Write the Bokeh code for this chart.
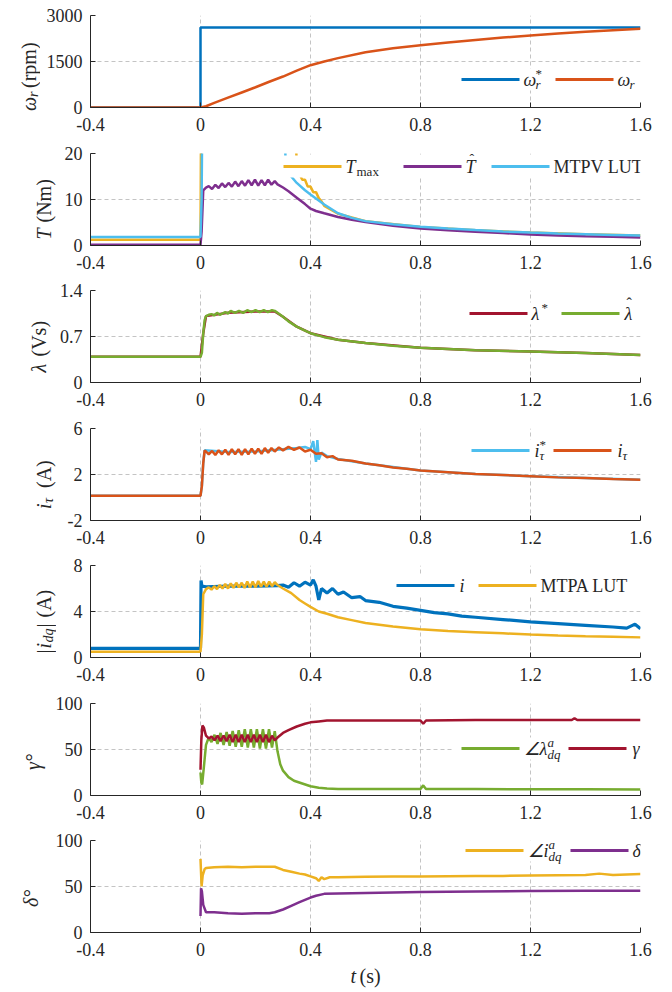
from math import pi
from bokeh.plotting import figure
from bokeh.layouts import column, row
from bokeh.models import Range1d, FixedTicker, Label, BoxAnnotation
from bokeh.embed import file_html
from bokeh.resources import INLINE

# ---------------- data ----------------
X_TICKS = [-0.4, 0, 0.4, 0.8, 1.2, 1.6]
X_TICK_LABELS = ["-0.4", "0", "0.4", "0.8", "1.2", "1.6"]

# panel 1 : speed
w_ref_t = [-0.4, 0.0, 0.0, 1.6]
w_ref = [0, 0, 2610, 2610]
w_t = [-0.4, 0.0, 0.02, 0.05, 0.1, 0.15, 0.2, 0.25, 0.3, 0.35, 0.4, 0.45, 0.5, 0.6, 0.7,
       0.8, 0.9, 1.0, 1.1, 1.2, 1.3, 1.4, 1.5, 1.6]
w_act = [0, 0, 40, 150, 320, 490, 660, 840, 1010, 1200, 1380, 1500, 1610, 1800, 1930,
         2030, 2120, 2200, 2280, 2350, 2410, 2470, 2520, 2565]
W_TICKS = [0, 1500, 3000]
W_TICK_LABELS = ["0", "1500", "3000"]

# panel 2 : torque
tmax_t = [-0.4, 0.0, 0.003, 0.34, 0.35, 0.36, 0.37, 0.38, 0.39, 0.40, 0.41, 0.42, 0.43,
          0.44, 0.45, 0.5, 0.6, 0.8, 1.0, 1.2, 1.4, 1.6]
tmax = [1.25, 1.25, 40, 40, 16.8, 15.5, 14.3, 14.3, 12.8, 12.8, 11.6, 11.6, 10.3,
        9.6, 8.6, 6.9, 5.3, 4.0, 3.3, 2.8, 2.45, 2.15]
that_t = [-0.4, 0.0, 0.004, 0.01, 0.02, 0.030, 0.042, 0.054, 0.066, 0.078, 0.090, 0.102,
          0.114, 0.126, 0.138, 0.150, 0.162, 0.174, 0.186, 0.198, 0.210, 0.222, 0.234,
          0.246, 0.258, 0.270, 0.280, 0.30, 0.32, 0.35, 0.38, 0.40, 0.42, 0.45, 0.5,
          0.55, 0.6, 0.7, 0.8, 0.9, 1.0, 1.1, 1.2, 1.3, 1.4, 1.5, 1.6]
that = [0.15, 0.15, 3.0, 12.0, 12.6, 12.9, 12.3, 13.2, 12.5, 13.5, 12.7, 13.6,
        12.8, 13.9, 12.9, 14.0, 13.0, 14.2, 13.1, 14.3, 13.0, 14.2, 13.1,
        14.3, 13.2, 14.0, 13.3, 12.6, 11.8, 10.4, 9.0, 8.0, 7.5, 7.0, 6.2,
        5.6, 5.1, 4.3, 3.7, 3.3, 3.0, 2.7, 2.4, 2.2, 2.0, 1.9, 1.75]
mtpv_t = [-0.4, 0.0, 0.004, 0.008, 0.30, 0.31, 0.33, 0.35, 0.38, 0.40, 0.43, 0.45, 0.5,
          0.55, 0.6, 0.7, 0.8, 0.9, 1.0, 1.1, 1.2, 1.3, 1.4, 1.5, 1.6]
mtpv = [1.85, 1.85, 10, 40, 40, 16.7, 15.0, 13.6, 12.0, 11.1, 9.8, 8.9, 7.0,
        6.0, 5.3, 4.6, 4.1, 3.7, 3.35, 3.05, 2.8, 2.6, 2.45, 2.3, 2.15]
T_TICKS = [0, 10, 20]
T_TICK_LABELS = ["0", "10", "20"]

# panel 3 : flux
lam_t = [-0.4, 0.0, 0.005, 0.01, 0.015, 0.02, 0.03, 0.04, 0.05, 0.06, 0.07, 0.09, 0.10,
         0.11, 0.125, 0.14, 0.155, 0.17, 0.185, 0.20, 0.215, 0.23, 0.245, 0.26, 0.27,
         0.28, 0.30, 0.32, 0.35, 0.38, 0.40, 0.45, 0.5, 0.6, 0.7, 0.8, 0.9, 1.0, 1.2,
         1.4, 1.6]
lam_hat = [0.39, 0.39, 0.45, 0.75, 0.95, 1.01, 1.03, 1.04, 1.02, 1.06, 1.03, 1.07, 1.05,
           1.09, 1.06, 1.09, 1.06, 1.10, 1.07, 1.10, 1.07, 1.10, 1.07, 1.10, 1.09,
           1.06, 1.00, 0.93, 0.85, 0.79, 0.75, 0.69, 0.65, 0.60, 0.56, 0.53, 0.51, 0.49,
           0.47, 0.45, 0.42]
lamref_t = [-0.4, 0.0, 0.01, 0.02, 0.1, 0.2, 0.27, 0.30, 0.35, 0.40, 0.5, 0.6, 0.8, 1.0,
            1.2, 1.4, 1.6]
lam_ref = [0.39, 0.39, 0.75, 1.01, 1.06, 1.08, 1.08, 1.00, 0.85, 0.75, 0.65, 0.60, 0.53,
           0.49, 0.47, 0.45, 0.42]
L_TICKS = [0, 0.7, 1.4]
L_TICK_LABELS = ["0", "0.7", "1.4"]

# panel 4 : torque current
it_t = [-0.4, 0.0, 0.005, 0.01, 0.015, 0.020, 0.030, 0.042, 0.054, 0.066, 0.078, 0.090,
        0.102, 0.114, 0.126, 0.138, 0.150, 0.162, 0.174, 0.186, 0.198, 0.210, 0.222,
        0.234, 0.246, 0.258, 0.270, 0.285, 0.30, 0.32, 0.34, 0.36, 0.38, 0.40, 0.42,
        0.44, 0.46, 0.48, 0.50, 0.55, 0.6, 0.65, 0.7, 0.75, 0.8, 0.9, 1.0, 1.1, 1.2,
        1.3, 1.4, 1.5, 1.6]
i_tau = [0.15, 0.15, 1.0, 3.0, 4.1, 4.0, 3.75, 4.05, 3.7, 4.1, 3.75, 4.15,
         3.7, 4.2, 3.75, 4.2, 3.7, 4.2, 3.75, 4.25, 3.8, 4.25, 3.8,
         4.3, 3.9, 4.3, 4.0, 4.35, 4.1, 4.4, 4.15, 4.35, 4.0, 4.15, 3.8,
         3.85, 3.5, 3.6, 3.3, 3.2, 2.95, 2.8, 2.6, 2.5, 2.35, 2.2, 2.05, 1.95, 1.85,
         1.75, 1.7, 1.6, 1.55]
itref_t = [-0.4, 0.0, 0.005, 0.01, 0.015, 0.1, 0.2, 0.3, 0.35, 0.38, 0.40, 0.41, 0.42,
           0.425, 0.43, 0.44, 0.46, 0.5, 0.6, 0.8, 1.0, 1.2, 1.4, 1.6]
i_tau_ref = [0.15, 0.15, 1.0, 3.0, 4.1, 3.95, 4.0, 4.2, 4.3, 4.4, 4.2, 4.9, 3.1,
             5.0, 3.3, 3.9, 3.6, 3.35, 2.95, 2.35, 2.05, 1.85, 1.7, 1.55]
I_TICKS = [-2, 2, 6]
I_TICK_LABELS = ["-2", "2", "6"]

# panel 5 : current magnitude
imag_t = [-0.4, 0.0, 0.002, 0.005, 0.02, 0.1, 0.2, 0.28, 0.30, 0.32, 0.34, 0.36, 0.38,
          0.40, 0.41, 0.42, 0.43, 0.44, 0.46, 0.48, 0.50, 0.52, 0.55, 0.58, 0.6, 0.65,
          0.7, 0.75, 0.8, 0.85, 0.9, 0.95, 1.0, 1.1, 1.2, 1.3, 1.4, 1.5, 1.55, 1.58, 1.6]
i_mag = [0.8, 0.8, 6.7, 6.2, 6.15, 6.2, 6.2, 6.25, 6.3, 6.1, 6.5, 6.2, 6.55,
         6.3, 6.75, 6.2, 5.0, 6.0, 5.6, 6.0, 5.5, 5.7, 5.2, 5.3, 4.95, 4.8,
         4.45, 4.3, 4.1, 3.9, 3.8, 3.6, 3.5, 3.3, 3.1, 2.95, 2.8, 2.65, 2.55, 2.9, 2.5]
mtpa_t = [-0.4, 0.0, 0.005, 0.01, 0.02, 0.03, 0.04, 0.05, 0.06, 0.07, 0.08, 0.09, 0.10,
          0.11, 0.12, 0.13, 0.14, 0.15, 0.16, 0.17, 0.18, 0.19, 0.20, 0.21, 0.22, 0.23,
          0.24, 0.25, 0.26, 0.27, 0.28, 0.30, 0.33, 0.36, 0.38, 0.40, 0.43, 0.46, 0.5,
          0.55, 0.6, 0.65, 0.7, 0.8, 0.9, 1.0, 1.1, 1.2, 1.3, 1.4, 1.5, 1.6]
mtpa = [0.5, 0.5, 2.0, 5.5, 5.95, 6.1, 5.9, 6.2, 5.95, 6.3, 6.0, 6.4, 6.0,
        6.45, 6.05, 6.5, 6.1, 6.5, 6.05, 6.6, 6.1, 6.6, 6.1, 6.65, 6.15, 6.6,
        6.15, 6.6, 6.2, 6.55, 6.3, 6.0, 5.6, 5.0, 4.7, 4.4, 4.0, 3.8, 3.5,
        3.25, 3.0, 2.85, 2.7, 2.45, 2.3, 2.2, 2.1, 2.0, 1.92, 1.85, 1.8, 1.75]
M_TICKS = [0, 4, 8]
M_TICK_LABELS = ["0", "4", "8"]

# panel 6 : gamma
osc_t = [0.04, 0.051, 0.062, 0.073, 0.084, 0.095, 0.106, 0.117, 0.128, 0.139, 0.15,
         0.161, 0.172, 0.183, 0.194, 0.205, 0.216, 0.227, 0.238, 0.249, 0.26, 0.27]
angl_t = [0.0, 0.003, 0.006, 0.012, 0.02, 0.03] + osc_t + [0.28, 0.29, 0.30, 0.32, 0.34,
          0.37, 0.40, 0.43, 0.46, 0.5, 0.6, 0.8, 0.81, 0.82, 1.0, 1.2, 1.4, 1.6]
ang_lam = [25, 14, 12, 30, 55, 63, 58, 66, 56, 68, 55, 69, 54, 70, 53, 71, 53,
           72, 52, 72, 52, 72, 51, 72, 51, 72, 52, 70, 48, 34, 27, 20, 16,
           13, 10, 8.5, 7.5, 7.2, 7.0, 7.2, 11, 7.0, 7.0, 6.8, 6.8, 6.5]
gam_t = [0.0, 0.003, 0.007, 0.012, 0.02, 0.03] + osc_t + [0.28, 0.30, 0.32, 0.35, 0.38,
         0.40, 0.43, 0.46, 0.5, 0.8, 0.81, 0.82, 1.0, 1.2, 1.35, 1.36, 1.37, 1.6]
gamma = [28, 60, 76, 74, 65, 62, 64, 60, 65, 59, 65, 59, 66, 58, 66, 58, 66,
         58, 66, 58, 66, 58, 66, 58, 66, 58, 65, 60, 63, 68, 71, 75, 78,
         79.5, 80.5, 81.5, 81.5, 81.5, 78, 81.5, 82, 82, 82, 84, 82, 82]
A_TICKS = [0, 50, 100]
A_TICK_LABELS = ["0", "50", "100"]

# panel 7 : delta
angi_t = [0.0, 0.002, 0.004, 0.008, 0.015, 0.02, 0.05, 0.1, 0.15, 0.2, 0.27, 0.3, 0.33,
          0.36, 0.38, 0.40, 0.42, 0.43, 0.44, 0.45, 0.47, 0.5, 0.6, 0.7, 0.8, 1.0, 1.1,
          1.2, 1.4, 1.45, 1.5, 1.6]
ang_i = [80, 65, 50, 62, 69, 70, 71, 71.5, 71, 71.5, 71.5, 68, 66,
         64, 63, 61, 59, 56, 60, 58, 60, 60, 60.5, 61, 61, 61.5, 61.5,
         62, 62.5, 64, 62.5, 63.5]
del_t = [0.0, 0.002, 0.005, 0.01, 0.02, 0.05, 0.1, 0.15, 0.2, 0.25, 0.27, 0.3, 0.33,
         0.36, 0.38, 0.40, 0.42, 0.45, 0.5, 0.6, 0.8, 1.0, 1.2, 1.4, 1.6]
delta = [18, 48, 45, 30, 22, 22, 21, 20.5, 21, 21, 22, 25, 29,
         33, 35.5, 38, 40, 42, 42.5, 43, 44, 44.5, 45, 45.5, 45.5]

# ---------------- style / layout ----------------
FONT = "Liberation Serif"
INK = "#262626"
BLUE, ORANGE, YELLOW = "#0072BD", "#D95319", "#EDB120"
PURPLE, GREEN, LBLUE, RED = "#7E2F8E", "#77AC30", "#4DBEEE", "#A2142F"

FRAME_L = 90          # page x of the plot frames' left edge
FRAME_W = 550
FRAME_H = 92
RIGHT_B = 24
ROW_TOPS = [0, 143, 280, 418, 555, 693, 830, 964]   # last = end of last row
FRAME_TOPS = [15, 153, 290, 428, 565, 703, 840]
LAB_W = [40, 56, 54, 56, 56, 50, 50]                  # width of y-label strip
XLAB_H = 26


class Ctx:
    def __init__(self, p, left, bottom):
        self.p, self.left, self.bottom = p, left, bottom


def label(c, px, py, text, size=18, italic=False, angle=0.0):
    c.p.add_layout(Label(x=px - c.left, y=c.bottom - py, x_units="screen",
                         y_units="screen", text=text, text_font=FONT,
                         text_font_size=f"{size}px",
                         text_font_style="italic" if italic else "normal",
                         text_color=INK, text_align="left", text_baseline="middle",
                         angle=angle))


def rich_h(c, x, y, segs):
    # segs: (text, size, italic, shift down, advance)
    for text, size, it, sh, adv in segs:
        label(c, x, y + sh, text, size, it)
        x += adv


def rich_v(c, cx, cy, segs):
    total = sum(s[4] for s in segs)
    y = cy + total / 2
    for text, size, it, sh, adv in segs:
        label(c, cx + sh, y, text, size, it, angle=pi / 2)
        y -= adv


def box(c, x0, x1, y0, y1, color):
    c.p.add_layout(BoxAnnotation(left=x0 - c.left, right=x1 - c.left,
                                 bottom=c.bottom - y1, top=c.bottom - y0,
                                 left_units="screen", right_units="screen",
                                 top_units="screen", bottom_units="screen",
                                 fill_color=color, fill_alpha=1.0, line_color=None,
                                 line_alpha=0.0))


def legend(c, y, bg, items):
    box(c, bg[0], bg[1], max(y - 11, c.bottom - FRAME_H), y + 11, "white")
    for color, x0, x1, tx, segs in items:
        box(c, x0, x1, y - 1.5, y + 1.5, color)
        rich_h(c, tx, y, segs)


def blank_fig(w, h):
    f = figure(frame_width=w, frame_height=h, x_range=Range1d(0, 1), y_range=Range1d(0, 1),
               output_backend="svg", toolbar_location=None,
               x_axis_location=None, y_axis_location=None,
               min_border=0, min_border_left=0, min_border_right=0,
               min_border_top=0, min_border_bottom=0)
    f.grid.visible = False
    f.outline_line_color = None
    f.background_fill_color = "white"
    f.border_fill_color = "white"
    return f


def make_panel(i, yr, yticks, ylabels):
    rt, re_ = ROW_TOPS[i], ROW_TOPS[i + 1]
    ft = FRAME_TOPS[i]
    lw = LAB_W[i]
    p = figure(frame_width=FRAME_W, frame_height=FRAME_H,
               x_range=Range1d(-0.4, 1.6), y_range=Range1d(*yr),
               output_backend="svg", toolbar_location=None,
               min_border_left=FRAME_L - lw, min_border_right=RIGHT_B,
               min_border_top=ft - rt, min_border_bottom=re_ - (ft + FRAME_H))
    p.outline_line_color = None
    p.background_fill_color = "white"
    p.border_fill_color = "white"
    p.xaxis.ticker = FixedTicker(ticks=X_TICKS)
    p.xaxis.major_label_overrides = dict(zip(X_TICKS, X_TICK_LABELS))
    p.yaxis.ticker = FixedTicker(ticks=yticks)
    p.yaxis.major_label_overrides = dict(zip(yticks, ylabels))
    for ax in (p.xaxis[0], p.yaxis[0]):
        ax.axis_line_color = INK
        ax.axis_line_width = 1
        ax.major_tick_in = 5
        ax.major_tick_out = 0
        ax.major_tick_line_color = INK
        ax.minor_tick_line_color = None
        ax.major_label_text_font = FONT
        ax.major_label_text_font_size = "18px"
        ax.major_label_text_color = INK
    p.xaxis.major_label_standoff = 10
    p.yaxis.major_label_standoff = 8
    p.grid.grid_line_color = "#c4c4c4"
    p.grid.grid_line_dash = "4 3"
    p.grid.grid_line_width = 1
    lab = blank_fig(lw, re_ - rt)
    main = Ctx(p, FRAME_L, ft + FRAME_H)
    side = Ctx(lab, 0, re_)
    return p, main, side, ft + FRAME_H / 2, row(lab, p, spacing=0)


LW = 2.5
rows = []

# 1 speed
p, c, s, mid, r = make_panel(0, (0, 3000), W_TICKS, W_TICK_LABELS)
p.line(w_ref_t, w_ref, color=BLUE, line_width=LW)
p.line(w_t, w_act, color=ORANGE, line_width=LW)
legend(c, 79, (452, 646), [
    (BLUE, 461, 519, 523, [("ω", 18, True, 0, 12), ("*", 13, False, -6, 0), ("r", 13, True, 5, 6)]),
    (ORANGE, 555, 613, 617, [("ω", 18, True, 0, 12), ("r", 13, True, 5, 6)]),
])
rich_v(s, 28, mid, [("ω", 20, True, 0, 14), ("r", 14, True, 5, 9), ("(rpm)", 20, False, 0, 46)])
rows.append(r)

# 2 torque
p, c, s, mid, r = make_panel(1, (0, 20), T_TICKS, T_TICK_LABELS)
p.line(tmax_t, tmax, color=YELLOW, line_width=LW)
p.line(that_t, that, color=PURPLE, line_width=LW)
p.line(mtpv_t, mtpv, color=LBLUE, line_width=LW)
legend(c, 166, (276, 640), [
    (YELLOW, 283, 341, 345, [("T", 18, True, 0, 11), ("max", 13, False, 5, 20)]),
    (PURPLE, 403, 461, 465, [("T", 18, True, 0, 4), ("ˆ", 14, False, -7, 9)]),
    (LBLUE, 491, 549, 553, [("MTPV LUT", 18, False, 0, 90)]),
])
rich_v(s, 43, mid, [("T", 20, True, 0, 17), ("(Nm)", 20, False, 0, 43)])
rows.append(r)

# 3 flux
p, c, s, mid, r = make_panel(2, (0, 1.4), L_TICKS, L_TICK_LABELS)
p.line(lamref_t, lam_ref, color=RED, line_width=LW)
p.line(lam_t, lam_hat, color=GREEN, line_width=LW)
legend(c, 313, (460, 646), [
    (RED, 469, 527, 531, [("λ", 18, True, 0, 10), ("*", 13, False, -6, 8)]),
    (GREEN, 561, 619, 624, [("λ", 18, True, 0, 2), ("ˆ", 16, False, -10, 8)]),
])
rich_v(s, 38, mid, [("λ", 20, True, 0, 16), ("(Vs)", 20, False, 0, 36)])
rows.append(r)

# 4 torque current
p, c, s, mid, r = make_panel(3, (-2, 6), I_TICKS, I_TICK_LABELS)
p.line(itref_t, i_tau_ref, color=LBLUE, line_width=LW)
p.line(it_t, i_tau, color=ORANGE, line_width=LW)
legend(c, 450, (462, 646), [
    (LBLUE, 471, 529, 534, [("i", 18, True, 0, 5), ("*", 13, False, -6, 0), ("τ", 13, True, 5, 7)]),
    (ORANGE, 553, 611, 617, [("i", 18, True, 0, 5), ("τ", 13, True, 5, 7)]),
])
rich_v(s, 43, mid, [("i", 20, True, 0, 6), ("τ", 14, True, 5, 15), ("(A)", 20, False, 0, 28)])
rows.append(r)

# 5 current magnitude
p, c, s, mid, r = make_panel(4, (0, 8), M_TICKS, M_TICK_LABELS)
p.line(imag_t, i_mag, color=BLUE, line_width=3.2)
p.line(mtpa_t, mtpa, color=YELLOW, line_width=LW)
legend(c, 585, (388, 646), [
    (BLUE, 396, 454, 459, [("i", 18, True, 0, 6)]),
    (YELLOW, 478, 536, 540, [("MTPA LUT", 18, False, 0, 92)]),
])
rich_v(s, 43, mid, [("|", 20, False, 0, 5), ("i", 20, True, 0, 6), ("dq", 14, True, 5, 15),
                    ("|", 20, False, 0, 10), ("(A)", 20, False, 0, 28)])
rows.append(r)

# 6 gamma
p, c, s, mid, r = make_panel(5, (0, 100), A_TICKS, A_TICK_LABELS)
p.line(angl_t, ang_lam, color=GREEN, line_width=LW)
p.line(gam_t, gamma, color=RED, line_width=LW)
legend(c, 748, (453, 646), [
    (GREEN, 461, 519, 523, [("∠λ", 18, True, 0, 24), ("a", 13, True, -6, 0), ("dq", 13, True, 6, 14)]),
    (RED, 568, 626, 632, [("γ", 18, True, 0, 9)]),
])
rich_v(s, 32, mid, [("γ°", 20, True, 0, 21)])
rows.append(r)

# 7 delta
p, c, s, mid, r = make_panel(6, (0, 100), A_TICKS, A_TICK_LABELS)
p.line(angi_t, ang_i, color=YELLOW, line_width=LW)
p.line(del_t, delta, color=PURPLE, line_width=LW)
legend(c, 850, (457, 646), [
    (YELLOW, 465, 523, 527, [("∠i", 18, True, 0, 21), ("a", 13, True, -6, 0), ("dq", 13, True, 6, 14)]),
    (PURPLE, 570, 628, 632, [("δ", 18, True, 0, 9)]),
])
rich_v(s, 30, mid, [("δ°", 20, True, 0, 21)])
rows.append(r)

# x label strip
xl = blank_fig(FRAME_L + FRAME_W + RIGHT_B, XLAB_H)
xc = Ctx(xl, 0, ROW_TOPS[-1] + XLAB_H)
rich_h(xc, 350, 975, [("t", 20, True, 0, 9), ("(s)", 20, False, 0, 25)])
rows.append(xl)

layout = column(*rows, spacing=0)
open("out.html", "w").write(file_html(layout, INLINE))
